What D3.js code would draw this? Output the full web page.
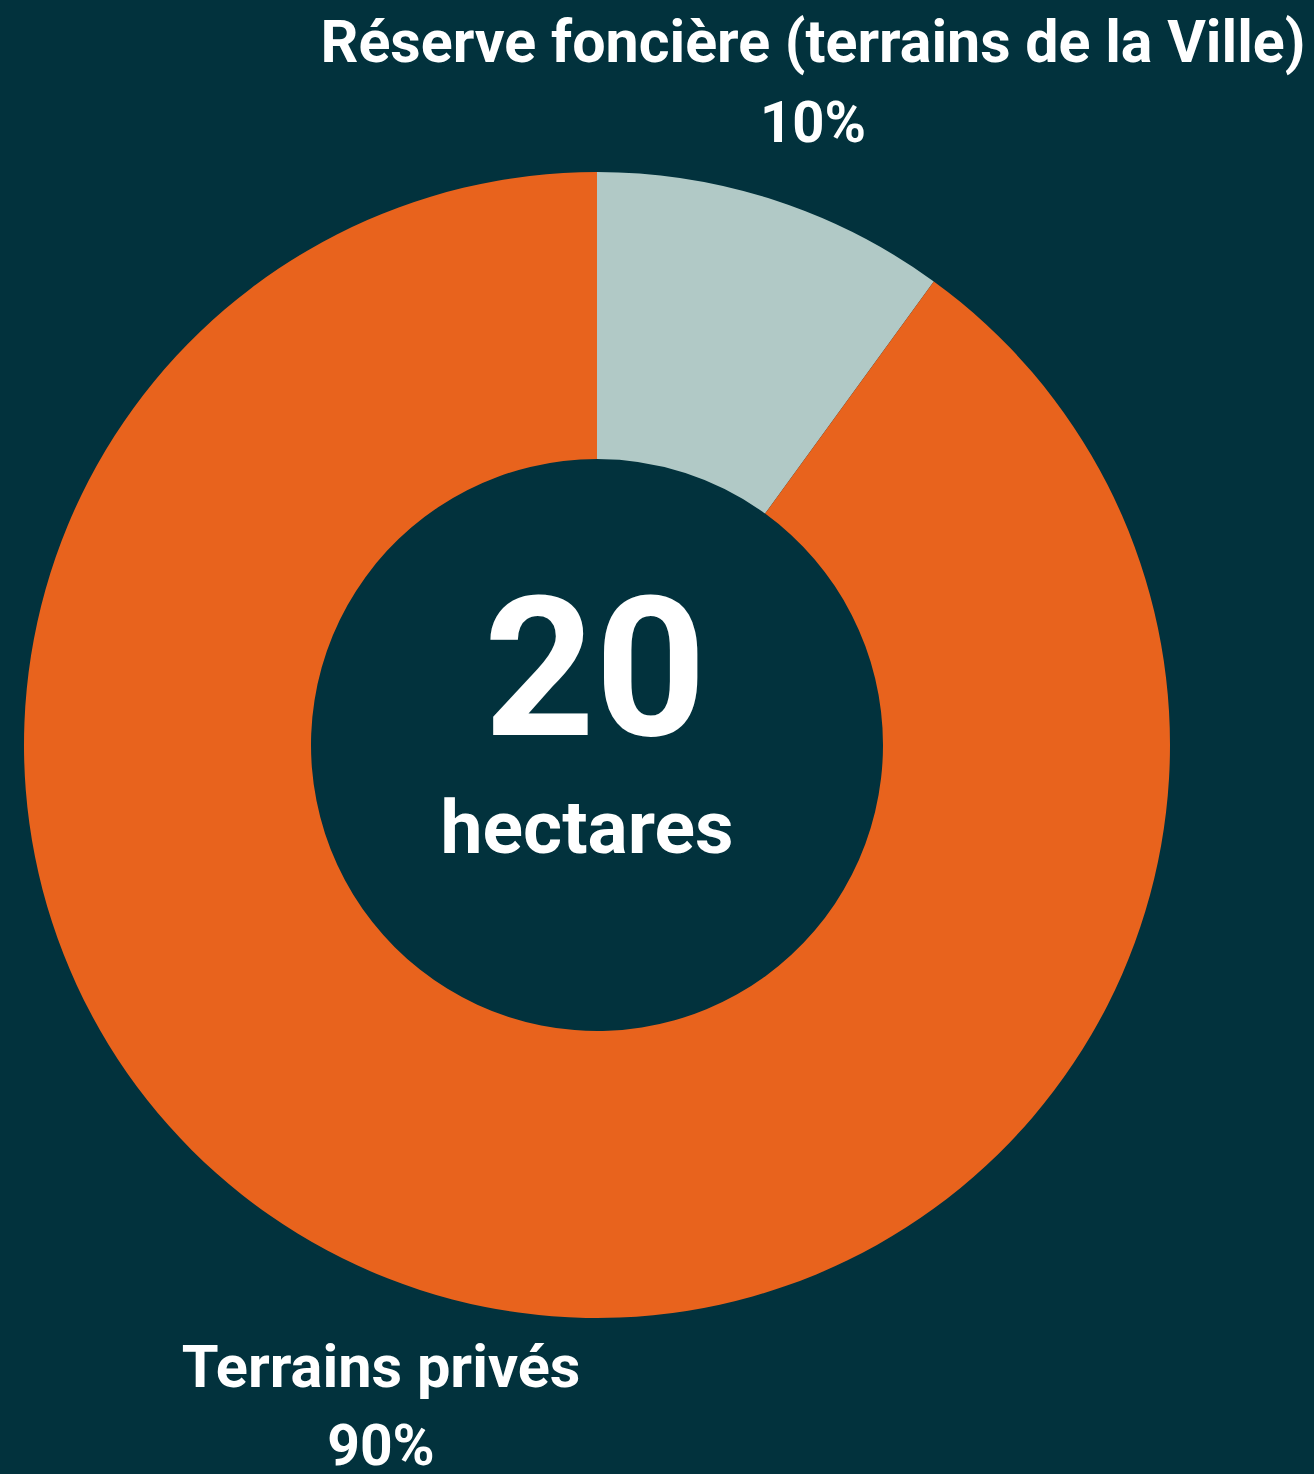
<!DOCTYPE html>
<html>
<head>
<meta charset="utf-8">
<script src="https://cdn.jsdelivr.net/npm/d3@7"></script>
<style>
  html, body { margin: 0; padding: 0; background: #02323d; }
  svg { display: block; }
</style>
</head>
<body>
<div id="chart"></div>
<script>
  'use strict';

  // data
  var categories = ['Réserve foncière (terrains de la Ville)', 'Terrains privés'];
  var shares = [10, 90];
  var colors = ['#b1c9c6', '#e8631d'];
  var totalValue = '20';
  var totalUnit = 'hectares';

  var width = 1314, height = 1474;
  var cx = 597, cy = 745;
  var outerR = 573, innerR = 286;

  var svg = d3.select('#chart')
    .append('svg')
    .attr('width', width)
    .attr('height', height);

  svg.append('rect')
    .attr('width', width)
    .attr('height', height)
    .attr('fill', '#02323d');

  var data = categories.map(function(c, i) {
    return { name: c, value: shares[i], color: colors[i] };
  });

  var pie = d3.pie()
    .sort(null)
    .value(function(d) { return d.value; });

  var arc = d3.arc()
    .innerRadius(innerR)
    .outerRadius(outerR);

  var g = svg.append('g')
    .attr('transform', 'translate(' + cx + ',' + cy + ')');

  g.selectAll('path')
    .data(pie(data))
    .enter()
    .append('path')
    .attr('d', arc)
    .attr('fill', function(d) { return d.data.color; });

  // centre text
  g.append('text')
    .attr('x', -2)
    .attr('y', -10)
    .attr('text-anchor', 'middle')
    .style('font-family', 'Roboto, sans-serif')
    .style('font-weight', 'bold')
    .style('font-size', '194px')
    .attr('fill', '#fff')
    .text(totalValue);

  g.append('text')
    .attr('x', -10)
    .attr('y', 108)
    .attr('text-anchor', 'middle')
    .style('font-family', 'Roboto, sans-serif')
    .style('font-weight', 'bold')
    .style('font-size', '75px')
    .attr('fill', '#fff')
    .text(totalUnit);

  // slice labels (name + percentage)
  var labelPos = [
    { x: 813, y1: 62, y2: 142, w1: 985, w2: 106 },
    { x: 381, y1: 1387, y2: 1465, w1: null, w2: null }
  ];

  data.forEach(function(d, i) {
    var p = labelPos[i];
    var t1 = svg.append('text')
      .attr('x', p.x)
      .attr('y', p.y1)
      .attr('text-anchor', 'middle')
      .style('font-family', 'Roboto, sans-serif')
      .style('font-weight', 'bold')
      .style('font-size', '59.5px')
      .attr('fill', '#fff')
      .text(d.name);
    if (p.w1) {
      t1.attr('textLength', p.w1).attr('lengthAdjust', 'spacingAndGlyphs');
    }
    var t2 = svg.append('text')
      .attr('x', p.x)
      .attr('y', p.y2)
      .attr('text-anchor', 'middle')
      .style('font-family', 'Roboto, sans-serif')
      .style('font-weight', 'bold')
      .style('font-size', '57px')
      .attr('fill', '#fff')
      .text(d.value + '%');
    if (p.w2) {
      t2.attr('textLength', p.w2).attr('lengthAdjust', 'spacingAndGlyphs');
    }
  });
</script>
</body>
</html>
